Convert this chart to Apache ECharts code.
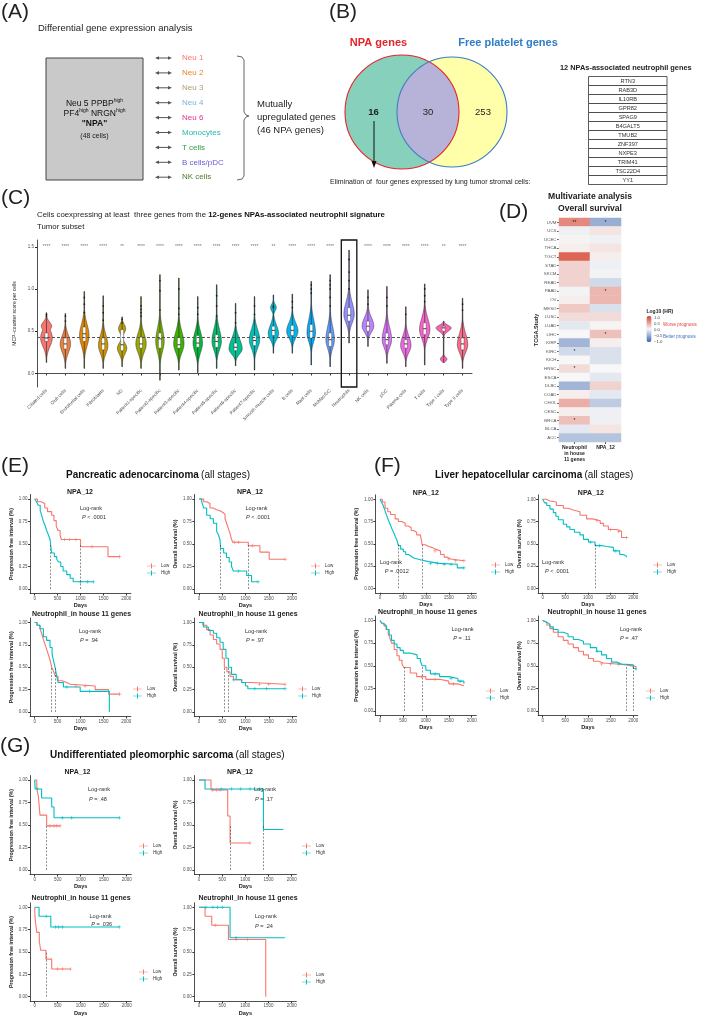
<!DOCTYPE html>
<html><head><meta charset="utf-8">
<script src="https://cdn.jsdelivr.net/npm/echarts@6/dist/echarts.min.js"></script>
<style>html,body{margin:0;padding:0;background:#fff}#c{width:709px;height:1019px}</style>
</head><body><div id="c"></div>
<script>
// ================= DATA =================
// Panel A
const compareGroups = ['Neu 1','Neu 2','Neu 3','Neu 4','Neu 6','Monocytes','T cells','B cells/pDC','NK cells'];
// Panel B
const vennSets = ['NPA genes','Free platelet genes'];
const vennCounts = [16, 30, 253];
const npaGenes = ['RTN3','RAB3D','IL10RB','GPR82','SPAG9','B4GALT5','TMUB2','ZNF397','NXPE3','TRIM41','TSC22D4','YY1'];
// Panel C (violins)
const cellTypes = ['Ciliated cells','Club cells','Endothelial cells','Fibroblasts','ND','Patient1-specific','Patient2-specific','Patient3-specific','Patient4-specific','Patient5-specific','Patient6-specific','Patient7-specific','Smooth muscle cells','B cells','Mast cells','MoMac/DC','Neutrophils','NK cells','pDC','Plasma cells','T cells','Type I cells','Type II cells'];
const vMin = [0.13,0.06,0.06,0.06,0.08,0.06,-0.08,0.04,0.01,0.06,0.09,0.04,0.24,0.24,0.10,0.08,0.36,0.32,0.12,0.08,0.10,0.13,0.06];
const vQ1  = [0.38,0.29,0.38,0.28,0.27,0.30,0.30,0.30,0.31,0.31,0.27,0.33,0.45,0.45,0.42,0.32,0.62,0.50,0.34,0.30,0.46,0.50,0.28];
const vMed = [0.42,0.35,0.47,0.35,0.34,0.35,0.41,0.34,0.36,0.38,0.31,0.39,0.51,0.51,0.50,0.40,0.69,0.56,0.40,0.35,0.53,0.54,0.35];
const vQ3  = [0.48,0.42,0.55,0.42,0.52,0.43,0.48,0.43,0.45,0.46,0.36,0.45,0.56,0.57,0.58,0.48,0.78,0.62,0.48,0.40,0.60,0.56,0.42];
const vMax = [0.72,0.71,0.97,0.92,0.67,0.91,1.17,1.13,0.91,1.05,0.83,0.91,0.93,0.94,1.09,1.17,1.46,0.99,1.03,0.79,1.06,0.62,0.89];
const vPeak  = [0.42,0.35,0.45,0.33,0.30,0.35,0.38,0.35,0.36,0.38,0.29,0.40,0.47,0.50,0.48,0.40,0.70,0.56,0.40,0.33,0.52,0.54,0.34];
const vWidth = [0.62,0.55,0.50,0.50,0.50,0.55,0.45,0.55,0.50,0.50,0.70,0.55,0.55,0.60,0.45,0.45,0.55,0.62,0.50,0.55,0.55,0.80,0.55];
const vSdLo  = [0.10,0.10,0.12,0.09,0.07,0.10,0.12,0.10,0.11,0.10,0.06,0.10,0.07,0.08,0.10,0.10,0.10,0.07,0.09,0.08,0.10,0.04,0.09];
const vSdHi  = [0.10,0.10,0.13,0.12,0.06,0.12,0.15,0.14,0.13,0.14,0.12,0.12,0.10,0.10,0.15,0.15,0.14,0.10,0.14,0.11,0.13,0.03,0.13];
const vPeak2  = [0.56,null,null,null,0.53,null,null,null,null,null,null,null,0.78,null,null,null,null,null,null,null,null,0.17,null];
const vWidth2 = [0.55,null,null,null,0.38,null,null,null,null,null,null,null,0.30,null,null,null,null,null,null,null,null,0.35,null];
const vSd2    = [0.05,null,null,null,0.05,null,null,null,null,null,null,null,0.04,null,null,null,null,null,null,null,null,0.025,null];
const vOutliers = [[0.68,0.70],[0.62,0.68],[0.72,0.82,0.90],[0.63,0.72,0.80],[0.60,0.64],[0.68,0.72,0.76,0.80],[0.75,0.98,1.10],[0.70,0.77,1.00],[0.70,0.78],[0.68,0.80,0.92],[0.60,0.72],[0.70,0.80],[0.78,0.80],[0.78,0.85],[0.95,1.00,1.05],[0.80,0.90,1.00,1.05,1.10],[1.00,1.10,1.20,1.35],[0.82,0.90],[0.80,0.90],[0.70],[0.85,0.92,1.00],[],[0.75,0.82]];
const vSignif = ['****','****','****','****','**','****','****','****','****','****','****','****','**','****','****','****','','****','****','****','****','**','****'];
const overallMedian = 0.43;
const violinTicks = [0, 0.5, 1.0, 1.5];
// Panel D (heatmap)
const tcgaStudies = ['UVM','UCS','UCEC','THCA','TGCT','STAD','SKCM','READ','PAAD','OV','MESO','LUSC','LUAD','LIHC','KIRP','KIRC','KICH','HNSC','ESCA','DLBC','COAD','CHOL','CESC','BRCA','BLCA','ACC'];
const hmColumns = ['Neutrophil\nin house\n11 genes','NPA_12'];
const hrNeutrophil = [0.60,-0.05,0.02,0.05,0.80,0.20,0.20,0.20,-0.03,0.05,0.25,0.15,-0.10,0.00,-0.45,-0.20,0.00,0.15,0.00,-0.45,0.05,0.40,0.05,0.30,-0.10,-0.35];
const hrNpa12      = [-0.50,0.10,-0.05,0.10,0.05,-0.05,-0.03,-0.20,0.35,0.35,-0.15,0.15,0.02,0.30,0.05,-0.15,-0.15,0.00,-0.10,0.20,-0.10,-0.30,-0.05,-0.05,0.10,-0.35];
const sigNeutrophil = ['**','','','','','','','','','','','','','','','*','','*','','','','','','*','',''];
const sigNpa12      = ['*','','','','','','','','*','','','','','*','','','','','','','','','','','',''];
const hmLegendTicks = ['1.0','0.5','0.0','\u22120.5','\u22121.0'];
// Panels E-G (Kaplan-Meier, [days, survival])
const kmXTicks = [0, 500, 1000, 1500, 2000];
const kmYTicks = [0, 0.25, 0.5, 0.75, 1];
// E: PAAD
const paadNpaPfiLow  = [[0,1],[60,0.97],[140,0.95],[220,0.9],[280,0.86],[370,0.82],[420,0.76],[470,0.7],[510,0.65],[555,0.6],[580,0.55],[1000,0.47],[1600,0.36],[1850,0.36]];
const paadNpaPfiHigh = [[0,1],[40,0.97],[75,0.93],[120,0.87],[150,0.82],[190,0.75],[230,0.7],[260,0.65],[300,0.6],[335,0.55],[350,0.48],[370,0.4],[430,0.36],[480,0.33],[520,0.3],[570,0.25],[620,0.2],[700,0.16],[775,0.12],[840,0.08],[1280,0.08]];
const paadNpaPfiLowCens  = [[650,0.55],[760,0.55],[900,0.55],[1250,0.47],[1850,0.36]];
const paadNpaPfiHighCens = [[1000,0.08],[1150,0.08],[1280,0.08]];
const paadNpaPfiMedian = [1000, 350];
const paadNpaOsLow  = [[0,1],[100,0.97],[165,0.95],[236,0.9],[300,0.88],[380,0.87],[450,0.85],[516,0.83],[560,0.78],[600,0.72],[640,0.66],[666,0.62],[690,0.57],[724,0.52],[1060,0.48],[1310,0.41],[1510,0.33],[1850,0.33]];
const paadNpaOsHigh = [[0,1],[58,0.97],[100,0.9],[165,0.82],[240,0.78],[310,0.73],[380,0.64],[420,0.6],[450,0.55],[467,0.45],[530,0.4],[590,0.35],[650,0.3],[700,0.25],[740,0.2],[1025,0.15],[1130,0.08],[1270,0.08]];
const paadNpaOsLowCens  = [[760,0.52],[850,0.52],[1150,0.48],[1850,0.33]];
const paadNpaOsHighCens = [[850,0.2],[1270,0.08]];
const paadNpaOsMedian = [1060, 467];
const paadNeuPfiLow  = [[0,1],[50,0.97],[115,0.93],[150,0.88],[190,0.81],[230,0.75],[260,0.7],[300,0.64],[335,0.58],[372,0.5],[408,0.46],[450,0.4],[510,0.35],[600,0.33],[700,0.31],[775,0.29],[1320,0.25],[1615,0.2],[1855,0.2]];
const paadNeuPfiHigh = [[0,1],[50,0.97],[115,0.93],[190,0.84],[260,0.8],[335,0.72],[380,0.65],[408,0.58],[445,0.5],[480,0.4],[510,0.33],[627,0.28],[993,0.23],[1630,0]];
const paadNeuPfiLowCens  = [[900,0.29],[1100,0.29],[1855,0.2]];
const paadNeuPfiHighCens = [[700,0.28],[1200,0.23]];
const paadNeuPfiMedian = [372, 445];
const paadNeuOsLow  = [[0,1],[80,0.97],[165,0.92],[240,0.86],[310,0.81],[380,0.76],[452,0.7],[500,0.6],[545,0.5],[600,0.45],[667,0.4],[740,0.36],[918,0.33],[1130,0.31],[1850,0.31]];
const paadNeuOsHigh = [[0,1],[100,0.95],[200,0.91],[310,0.88],[380,0.83],[452,0.78],[520,0.7],[580,0.6],[632,0.5],[700,0.42],[800,0.36],[918,0.33],[1000,0.29],[1050,0.26],[1850,0.26]];
const paadNeuOsLowCens  = [[1300,0.31],[1500,0.31],[1850,0.31]];
const paadNeuOsHighCens = [[750,0.36],[1200,0.26],[1450,0.26],[1850,0.26]];
const paadNeuOsMedian = [545, 632];
// F: LIHC
const lihcNpaPfiLow  = [[0,1],[50,0.97],[110,0.9],[170,0.86],[230,0.83],[330,0.78],[400,0.75],[475,0.73],[550,0.7],[620,0.68],[680,0.65],[730,0.63],[800,0.6],[880,0.58],[920,0.49],[990,0.47],[1060,0.46],[1130,0.44],[1210,0.42],[1320,0.38],[1400,0.35],[1470,0.33],[1540,0.31],[1830,0.31]];
const lihcNpaPfiHigh = [[0,1],[40,0.96],[70,0.93],[110,0.87],[145,0.82],[180,0.77],[220,0.72],[260,0.67],[295,0.63],[335,0.58],[370,0.54],[400,0.48],[450,0.44],[510,0.41],[560,0.38],[620,0.36],[680,0.34],[735,0.32],[880,0.3],[1060,0.28],[1300,0.27],[1685,0.23],[1830,0.23]];
const lihcNpaPfiLowCens  = [[1200,0.42],[1500,0.33],[1650,0.31],[1830,0.31]];
const lihcNpaPfiHighCens = [[1100,0.28],[1250,0.28],[1400,0.27],[1550,0.27],[1830,0.23]];
const lihcNpaPfiMedian = [920, 400];
const lihcNpaOsLow  = [[0,1],[80,0.98],[160,0.97],[300,0.93],[455,0.9],[560,0.88],[676,0.86],[823,0.82],[970,0.78],[1100,0.77],[1190,0.76],[1270,0.73],[1340,0.7],[1450,0.66],[1630,0.64],[1740,0.57],[1850,0.57]];
const lihcNpaOsHigh = [[0,1],[40,0.96],[90,0.93],[160,0.89],[235,0.85],[290,0.81],[345,0.77],[455,0.72],[530,0.69],[600,0.66],[700,0.63],[823,0.6],[900,0.55],[1010,0.52],[1155,0.48],[1300,0.47],[1410,0.46],[1560,0.42],[1700,0.38],[1780,0.36],[1850,0.35]];
const lihcNpaOsLowCens  = [[1200,0.76],[1500,0.66],[1680,0.64],[1850,0.57]];
const lihcNpaOsHighCens = [[1050,0.52],[1250,0.48],[1600,0.42]];
const lihcNpaOsMedian = [null, 1155];
const lihcNeuPfiLow  = [[0,1],[40,0.97],[70,0.95],[130,0.9],[180,0.85],[220,0.8],[250,0.75],[310,0.68],[370,0.61],[420,0.56],[480,0.52],[520,0.48],[660,0.42],[800,0.38],[1000,0.35],[1300,0.33],[1500,0.3],[1700,0.28],[1830,0.28]];
const lihcNeuPfiHigh = [[0,1],[40,0.97],[90,0.94],[145,0.9],[200,0.84],[250,0.78],[310,0.74],[370,0.7],[440,0.67],[510,0.64],[660,0.62],[810,0.58],[880,0.55],[920,0.5],[1000,0.45],[1100,0.41],[1300,0.38],[1500,0.36],[1700,0.33],[1830,0.3]];
const lihcNeuPfiLowCens  = [[900,0.38],[1200,0.35],[1600,0.3]];
const lihcNeuPfiHighCens = [[1200,0.41],[1550,0.36],[1750,0.33]];
const lihcNeuPfiMedian = [520, 920];
const lihcNeuOsLow  = [[0,1],[40,0.98],[90,0.95],[160,0.91],[235,0.87],[340,0.82],[455,0.78],[560,0.74],[676,0.7],[790,0.66],[900,0.62],[1010,0.58],[1120,0.55],[1230,0.53],[1340,0.52],[1630,0.51],[1850,0.49],[2060,0.47]];
const lihcNeuOsHigh = [[0,1],[40,0.98],[90,0.96],[160,0.93],[235,0.9],[340,0.87],[455,0.85],[560,0.82],[676,0.79],[790,0.77],[900,0.74],[1050,0.7],[1190,0.66],[1300,0.62],[1410,0.58],[1520,0.54],[1630,0.52],[1740,0.51],[2000,0.47],[2060,0.45]];
const lihcNeuOsLowCens  = [[1300,0.52],[1500,0.52]];
const lihcNeuOsHighCens = [[1200,0.66],[1680,0.52]];
const lihcNeuOsMedian = [1850, 2000];
// G: UPS
const upsNpaPfiLow  = [[0,1],[45,0.9],[80,0.82],[115,0.61],[260,0.49],[550,0.49]];
const upsNpaPfiHigh = [[0,1],[10,0.9],[150,0.8],[370,0.7],[420,0.58],[1840,0.58]];
const upsNpaPfiLowCens  = [[330,0.49],[420,0.49],[480,0.49],[550,0.49]];
const upsNpaPfiHighCens = [[60,0.9],[600,0.58],[800,0.58],[1840,0.58]];
const upsNpaPfiMedian = [260, null];
const upsNpaOsLow  = [[0,1],[260,0.89],[620,0.6],[670,0.3],[1100,0.3]];
const upsNpaOsHigh = [[0,1],[130,0.9],[1390,0.45],[1820,0.45]];
const upsNpaOsLowCens  = [[300,0.89],[380,0.89],[450,0.89],[1100,0.3]];
const upsNpaOsHighCens = [[480,0.9],[700,0.9],[900,0.9],[1100,0.9],[1300,0.9]];
const upsNpaOsMedian = [670, 1390];
const upsNeuPfiLow  = [[0,1],[5,0.91],[20,0.82],[45,0.72],[100,0.62],[130,0.52],[245,0.42],[370,0.31],[780,0.31]];
const upsNeuPfiHigh = [[0,1],[95,0.9],[350,0.78],[1840,0.78]];
const upsNeuPfiLowCens  = [[500,0.31],[600,0.31],[780,0.31]];
const upsNeuPfiHighCens = [[250,0.9],[450,0.78],[520,0.78],[600,0.78],[1840,0.78]];
const upsNeuPfiMedian = [245, null];
const upsNeuOsLow  = [[0,1],[130,0.9],[275,0.8],[635,0.64],[1440,0]];
const upsNeuOsHigh = [[0,1],[670,0.66],[1855,0.66]];
const upsNeuOsLowCens  = [[350,0.8],[800,0.64],[1050,0.64]];
const upsNeuOsHighCens = [[150,1],[300,1],[400,1],[500,1],[800,0.66]];
const upsNeuOsMedian = [null, null];
const kmPValues = ['< .0001','< .0001','= .94','= .97','= .0012','< .0001','= .11','= .47','= .48','= .17','= .036','= .24'];

// ================= STYLE / LAYOUT =================
const FF = '"Liberation Sans", Arial, Helvetica, sans-serif';
const groupColors = ['#F8766D','#E8862A','#A89F70','#7DB2DC','#E0348E','#2AB9B0','#2EA043','#6A5BD6','#4E7A2B'];
const violinColors = ['#F8766D','#EF7F3F','#E38900','#D09400','#B79F00','#9AA800','#75AF00','#3CB500','#00BA38','#00BE6C','#00C094','#00C0B8','#00BDD8','#00B6EB','#00ABFD','#619CFF','#9590FF','#BC81FF','#DB72FB','#EE67E4','#FA62CA','#FF62AC','#FF6B8A'];
const LOW = '#F8766D', HIGH = '#00BFC4';
const G = [];
function T(x, y, text, o) {
  const st = Object.assign({text: text, x: 0, y: 0, fontSize: 8, fill: '#222', fontFamily: FF, textAlign: 'left', align: 'left', textVerticalAlign: 'middle', verticalAlign: 'middle'}, o || {});
  if (o && o.textAlign) st.align = o.textAlign;
  if (o && o.textVerticalAlign) st.verticalAlign = o.textVerticalAlign;
  G.push({type: 'text', x: x, y: y, z: 100, style: st, silent: true});
}
function richT(x, y, text, rich, o) {
  const r = {};
  Object.keys(rich).forEach(k => r[k] = Object.assign({fontFamily: FF}, rich[k]));
  T(x, y, text, Object.assign({rich: r}, o || {}));
}

// ---------- Panel A ----------
T(1, 12, '(A)', {fontSize: 21});
T(38, 28, 'Differential gene expression analysis', {fontSize: 9.5});
G.push({type: 'rect', shape: {x: 46, y: 58, width: 97, height: 122}, style: {fill: '#C9C9C9', stroke: '#444', lineWidth: 1}});
const supRich = {n: {fontSize: 8.5, fill: '#111'}, s: {fontSize: 5, fill: '#111', verticalAlign: 'top', padding: [0, 0, 6, 0]}};
richT(94.5, 104, '{n|Neu 5 PPBP}{s|high}', supRich, {textAlign: 'center'});
richT(94.5, 114, '{n|PF4}{s|high}{n| NRGN}{s|high}', supRich, {textAlign: 'center'});
T(94.5, 124, '"NPA"', {fontSize: 8.5, fontWeight: 'bold', textAlign: 'center', fill: '#111'});
T(94.5, 136, '(48 cells)', {fontSize: 7, textAlign: 'center', fill: '#222'});
compareGroups.forEach((g, i) => {
  const y = 58 + i * 14.9;
  G.push({type: 'line', shape: {x1: 157, y1: y, x2: 170, y2: y}, style: {stroke: '#555', lineWidth: 1}});
  G.push({type: 'polygon', shape: {points: [[155, y], [159, y - 1.8], [159, y + 1.8]]}, style: {fill: '#555'}});
  G.push({type: 'polygon', shape: {points: [[172, y], [168, y - 1.8], [168, y + 1.8]]}, style: {fill: '#555'}});
  T(182, y, g, {fontSize: 8, fill: groupColors[i]});
});
G.push({type: 'polyline', shape: {points: [[237, 56], [242, 57], [244, 60], [244, 112], [246, 115], [249, 116], [246, 117], [244, 120], [244, 176], [242, 179], [237, 180]]}, style: {stroke: '#666', lineWidth: 1, fill: null}});
T(257, 104, 'Mutually', {fontSize: 9.5});
T(257, 117, 'upregulated genes', {fontSize: 9.5});
T(257, 130, '(' + 46 + ' NPA genes)', {fontSize: 9.5});

// ---------- Panel B ----------
T(329, 12, '(B)', {fontSize: 21});
T(378.5, 43, vennSets[0], {fontSize: 11, fontWeight: 'bold', fill: '#E4232A', textAlign: 'center'});
T(508, 43, vennSets[1], {fontSize: 11, fontWeight: 'bold', fill: '#2F7CC6', textAlign: 'center'});
(function venn() {
  const c1 = {x: 402, y: 112, r: 57}, c2 = {x: 452, y: 112, r: 55};
  G.push({type: 'circle', shape: {cx: c1.x, cy: c1.y, r: c1.r}, style: {fill: '#86D0BC'}});
  G.push({type: 'circle', shape: {cx: c2.x, cy: c2.y, r: c2.r}, style: {fill: '#FFFFAA'}});
  const d = c2.x - c1.x;
  const a = (d * d + c1.r * c1.r - c2.r * c2.r) / (2 * d);
  const h = Math.sqrt(c1.r * c1.r - a * a);
  const t1 = Math.atan2(h, a), t2 = Math.atan2(h, a - d);
  const pts = [];
  for (let k = 0; k <= 40; k++) { const t = -t1 + 2 * t1 * k / 40; pts.push([c1.x + c1.r * Math.cos(t), c1.y + c1.r * Math.sin(t)]); }
  for (let k = 0; k <= 40; k++) { const t = t2 + (2 * Math.PI - 2 * t2) * k / 40; pts.push([c2.x + c2.r * Math.cos(t), c2.y + c2.r * Math.sin(t)]); }
  G.push({type: 'polygon', shape: {points: pts}, style: {fill: '#B6B2D8'}});
  G.push({type: 'circle', shape: {cx: c1.x, cy: c1.y, r: c1.r}, style: {fill: null, stroke: '#E4232A', lineWidth: 1.1}});
  G.push({type: 'circle', shape: {cx: c2.x, cy: c2.y, r: c2.r}, style: {fill: null, stroke: '#3B7DC4', lineWidth: 1.1}});
})();
T(373.5, 112, String(vennCounts[0]), {fontSize: 9.5, fontWeight: 'bold', textAlign: 'center'});
T(428, 112, String(vennCounts[1]), {fontSize: 9.5, textAlign: 'center'});
T(483, 112, String(vennCounts[2]), {fontSize: 9.5, textAlign: 'center'});
G.push({type: 'line', shape: {x1: 374, y1: 121, x2: 374, y2: 162}, style: {stroke: '#111', lineWidth: 1}});
G.push({type: 'polygon', shape: {points: [[371.5, 161], [376.5, 161], [374, 168]]}, style: {fill: '#111'}});
T(330, 182, 'Elimination of  four genes expressed by lung tumor stromal cells:', {fontSize: 7});
T(560, 68, npaGenes.length + ' NPAs-associated neutrophil genes', {fontSize: 7.4, fontWeight: 'bold'});
npaGenes.forEach((g, i) => {
  const y = 76.5 + i * 9;
  G.push({type: 'rect', shape: {x: 588.5, y: y, width: 78.5, height: 9}, style: {fill: '#fff', stroke: '#333', lineWidth: 0.8}});
  T(627.75, y + 4.7, g, {fontSize: 5.6, textAlign: 'center', fill: '#333'});
});

// ---------- Panel C ----------
T(1, 198, '(C)', {fontSize: 21});
richT(37, 215, '{n|Cells coexpressing at least  three genes from the }{b|12-genes NPAs-associated neutrophil signature}', {n: {fontSize: 7.8, fill: '#222'}, b: {fontSize: 7.8, fontWeight: 'bold', fill: '#111'}});
T(37, 226.5, 'Tumor subset', {fontSize: 7.8});

// ---------- Panel D texts ----------
T(499, 212, '(D)', {fontSize: 21});
T(590, 197, 'Multivariate analysis', {fontSize: 8.6, fontWeight: 'bold', textAlign: 'center'});
T(590, 209, 'Overall survival', {fontSize: 8.6, fontWeight: 'bold', textAlign: 'center'});
T(646.5, 312, 'Log10 (HR)', {fontSize: 5, fontWeight: 'bold'});
hmLegendTicks.forEach((t, i) => T(654, 317.5 + i * 6, t, {fontSize: 4.3, fill: '#444'}));
T(663, 325, 'Worse prognosis', {fontSize: 4.5, fill: '#E0403A'});
T(663, 337, 'Better prognosis', {fontSize: 4.5, fill: '#3E6FC0'});

// ================= CHART STRUCTURE =================
const grids = [], xAxes = [], yAxes = [], series = [], legends = [];

// Violin grid (index 0)
grids.push({left: 37, top: 240, width: 435, height: 147});
xAxes.push({gridIndex: 0, type: 'category', data: cellTypes,
  axisLine: {lineStyle: {color: '#222', width: 0.8}}, axisTick: {show: true, alignWithLabel: true, length: 2, lineStyle: {color: '#333'}},
  axisLabel: {rotate: 45, interval: 0, fontSize: 4.6, color: '#4d4d4d', margin: 3}});
yAxes.push({gridIndex: 0, type: 'value', min: -0.16, max: 1.58,
  name: 'MCP\u2212counter score per cells', nameLocation: 'middle', nameGap: 14, nameTextStyle: {fontSize: 5, color: '#222'},
  axisLine: {show: true, lineStyle: {color: '#222', width: 0.8}}, splitLine: {show: false},
  axisTick: {show: true, length: 2, customValues: violinTicks},
  axisLabel: {customValues: violinTicks, formatter: v => Number(v).toFixed(1), fontSize: 4.5, color: '#4d4d4d', margin: 3}});
series.push({type: 'custom', name: 'violins', xAxisIndex: 0, yAxisIndex: 0, z: 3,
  data: cellTypes.map((c, i) => [i, vMin[i], vQ1[i], vMed[i], vQ3[i], vMax[i]]),
  encode: {x: 0, y: [1, 2, 3, 4, 5]},
  renderItem: function (params, api) {
    const i = params.dataIndex;
    const band = api.size([1, 0])[0];
    const cx = api.coord([i, 0])[0];
    const half = band / 2;
    const lo = api.value(1), hi = api.value(5);
    const N = 60, L = [], R = [];
    for (let k = 0; k <= N; k++) {
      const y = lo + (hi - lo) * k / N;
      const sd = y < vPeak[i] ? vSdLo[i] : vSdHi[i];
      let w = vWidth[i] * Math.exp(-0.5 * Math.pow((y - vPeak[i]) / sd, 2));
      if (vPeak2[i] != null) w = Math.max(w, vWidth2[i] * Math.exp(-0.5 * Math.pow((y - vPeak2[i]) / vSd2[i], 2)));
      w = Math.max(w, 0.03);
      const py = api.coord([i, y])[1];
      R.push([cx + w * half, py]);
      L.unshift([cx - w * half, py]);
    }
    const yq1 = api.coord([i, api.value(2)])[1], ymed = api.coord([i, api.value(3)])[1], yq3 = api.coord([i, api.value(4)])[1];
    const ylo = api.coord([i, lo])[1], yhi = api.coord([i, hi])[1];
    const bw = band * 0.16;
    const children = [
      {type: 'polygon', shape: {points: R.concat(L)}, style: {fill: violinColors[i], stroke: '#333', lineWidth: 0.5}},
      {type: 'line', shape: {x1: cx, y1: ylo, x2: cx, y2: yhi}, style: {stroke: '#222', lineWidth: 0.6}},
      {type: 'rect', shape: {x: cx - bw / 2, y: yq3, width: bw, height: yq1 - yq3}, style: {fill: '#fff', stroke: '#333', lineWidth: 0.4}},
      {type: 'line', shape: {x1: cx - bw / 2, y1: ymed, x2: cx + bw / 2, y2: ymed}, style: {stroke: '#111', lineWidth: 0.8}}
    ];
    if (cellTypes[i] === 'Neutrophils') {
      const cs = params.coordSys;
      children.push({type: 'rect', shape: {x: cx - band * 0.41, y: cs.y, width: band * 0.82, height: cs.height}, style: {fill: null, stroke: '#111', lineWidth: 1.3}});
    }
    return {type: 'group', children: children};
  }
});
const outlierPts = [];
vOutliers.forEach((arr, i) => arr.forEach(v => outlierPts.push([i, v])));
series.push({type: 'scatter', name: 'outliers', xAxisIndex: 0, yAxisIndex: 0, z: 4, data: outlierPts, symbolSize: 1.8, itemStyle: {color: '#111'}, silent: true,
  markLine: {silent: true, symbol: ['none', 'none'], label: {show: false}, lineStyle: {color: '#555', type: [3, 2], width: 1.1}, data: [{yAxis: overallMedian}]}});
series.push({type: 'scatter', name: 'signif', xAxisIndex: 0, yAxisIndex: 0, symbolSize: 0, silent: true,
  data: vSignif.map((s, i) => [i, 1.5, s]),
  label: {show: true, position: 'inside', formatter: p => p.value[2], fontSize: 5, color: '#555', fontFamily: FF}});

// Heatmap grid (index 1)
grids.push({left: 559, top: 218, width: 62, height: 224});
xAxes.push({gridIndex: 1, type: 'category', data: hmColumns, position: 'bottom',
  axisLine: {show: false}, axisTick: {show: true, length: 2, alignWithLabel: true, lineStyle: {color: '#555'}},
  axisLabel: {fontSize: 5, fontWeight: 'bold', color: '#222', lineHeight: 6, margin: 3, interval: 0}});
yAxes.push({gridIndex: 1, type: 'category', data: tcgaStudies, inverse: true,
  name: 'TCGA.Study', nameLocation: 'middle', nameGap: 19, nameTextStyle: {fontSize: 5.5, fontWeight: 'bold', color: '#222'},
  axisLine: {show: false}, axisTick: {show: true, length: 2, alignWithLabel: true, lineStyle: {color: '#666'}},
  axisLabel: {fontSize: 4.4, color: '#555', margin: 2.5, interval: 0}});
const hmData = [];
tcgaStudies.forEach((s, j) => { hmData.push([0, j, hrNeutrophil[j]]); hmData.push([1, j, hrNpa12[j]]); });
const hmSeriesIndex = series.length;
series.push({type: 'heatmap', name: 'log10HR', xAxisIndex: 1, yAxisIndex: 1, data: hmData,
  label: {show: true, fontSize: 5, color: '#222', formatter: p => (p.value[0] === 0 ? sigNeutrophil : sigNpa12)[p.value[1]]}});

// KM plots
const kmPlots = [
  {low: paadNpaPfiLow, high: paadNpaPfiHigh, lowC: paadNpaPfiLowCens, highC: paadNpaPfiHighCens, med: paadNpaPfiMedian, title: 'NPA_12', yName: 'Progression free interval (%)', X0: 34.7, X2: 126.3, Y1: 499, Y0: 589, tx: 80, ty: 492.5, lr: [91, 508.3, 94, 517], lg: [147, 567]},
  {low: paadNpaOsLow, high: paadNpaOsHigh, lowC: paadNpaOsLowCens, highC: paadNpaOsHighCens, med: paadNpaOsMedian, title: 'NPA_12', yName: 'Overall survival (%)', X0: 199, X2: 292, Y1: 499, Y0: 589, tx: 250, ty: 492.5, lr: [256.5, 508.3, 258, 517], lg: [311, 567]},
  {low: paadNeuPfiLow, high: paadNeuPfiHigh, lowC: paadNeuPfiLowCens, highC: paadNeuPfiHighCens, med: paadNeuPfiMedian, title: 'Neutrophil_in house 11 genes', yName: 'Progression free interval (%)', X0: 34.7, X2: 126.3, Y1: 622.5, Y0: 712, tx: 81.5, ty: 614, lr: [90, 631.7, 89, 640], lg: [133, 690]},
  {low: paadNeuOsLow, high: paadNeuOsHigh, lowC: paadNeuOsLowCens, highC: paadNeuOsHighCens, med: paadNeuOsMedian, title: 'Neutrophil_in house 11 genes', yName: 'Overall survival (%)', X0: 199, X2: 292, Y1: 622.5, Y0: 712, tx: 248, ty: 614, lr: [256, 631.7, 255, 640], lg: [298, 690]},
  {low: lihcNpaPfiLow, high: lihcNpaPfiHigh, lowC: lihcNpaPfiLowCens, highC: lihcNpaPfiHighCens, med: lihcNpaPfiMedian, title: 'NPA_12', yName: 'Progression free interval (%)', X0: 380, X2: 471.7, Y1: 499.3, Y0: 588.3, tx: 425.8, ty: 493, lr: [391, 562.7, 396.7, 571.3], lg: [491, 566]},
  {low: lihcNpaOsLow, high: lihcNpaOsHigh, lowC: lihcNpaOsLowCens, highC: lihcNpaOsHighCens, med: lihcNpaOsMedian, title: 'NPA_12', yName: 'Overall survival (%)', X0: 542.7, X2: 633.3, Y1: 499.3, Y0: 588.3, tx: 590.8, ty: 493, lr: [553, 562.7, 557, 571.3], lg: [653, 566]},
  {low: lihcNeuPfiLow, high: lihcNeuPfiHigh, lowC: lihcNeuPfiLowCens, highC: lihcNeuPfiHighCens, med: lihcNeuPfiMedian, title: 'Neutrophil_in house 11 genes', yName: 'Progression free interval (%)', X0: 380, X2: 471.7, Y1: 620.5, Y0: 711, tx: 427.5, ty: 612.3, lr: [462.5, 629.3, 462, 638.7], lg: [486, 692]},
  {low: lihcNeuOsLow, high: lihcNeuOsHigh, lowC: lihcNeuOsLowCens, highC: lihcNeuOsHighCens, med: lihcNeuOsMedian, title: 'Neutrophil_in house 11 genes', yName: 'Overall survival (%)', X0: 542.7, X2: 633.3, Y1: 620.5, Y0: 711, tx: 597, ty: 612.3, lr: [631, 629.3, 629, 638.7], lg: [646, 692]},
  {low: upsNpaPfiLow, high: upsNpaPfiHigh, lowC: upsNpaPfiLowCens, highC: upsNpaPfiHighCens, med: upsNpaPfiMedian, title: 'NPA_12', yName: 'Progression free interval (%)', X0: 34.7, X2: 126.7, Y1: 780, Y0: 870, tx: 77.5, ty: 772, lr: [99, 789.3, 98, 799], lg: [139, 847]},
  {low: upsNpaOsLow, high: upsNpaOsHigh, lowC: upsNpaOsLowCens, highC: upsNpaOsHighCens, med: upsNpaOsMedian, title: 'NPA_12', yName: 'Overall survival (%)', X0: 199, X2: 291.7, Y1: 780, Y0: 870, tx: 240, ty: 772, lr: [265, 789.3, 264, 799], lg: [302, 847]},
  {low: upsNeuPfiLow, high: upsNeuPfiHigh, lowC: upsNeuPfiLowCens, highC: upsNeuPfiHighCens, med: upsNeuPfiMedian, title: 'Neutrophil_in house 11 genes', yName: 'Progression free interval (%)', X0: 34.7, X2: 126.7, Y1: 907.3, Y0: 996.7, tx: 81, ty: 898, lr: [100.5, 916.7, 101.7, 924.5], lg: [139, 973]},
  {low: upsNeuOsLow, high: upsNeuOsHigh, lowC: upsNeuOsLowCens, highC: upsNeuOsHighCens, med: upsNeuOsMedian, title: 'Neutrophil_in house 11 genes', yName: 'Overall survival (%)', X0: 199, X2: 291.7, Y1: 907.3, Y0: 996.7, tx: 248, ty: 898, lr: [265.8, 916.7, 264, 926], lg: [302, 976]}
];
const plusSym = 'path://M4,0H6V4H10V6H6V10H4V6H0V4H4Z';
const legendIcon = 'path://M0,4.3H8V0H10V4.3H18V5.7H10V10H8V5.7H0Z';
kmPlots.forEach((k, n) => {
  const gi = grids.length;
  const pw = k.X2 - k.X0, ph = k.Y0 - k.Y1;
  grids.push({left: k.X0 - 0.05 * pw, top: k.Y1 - 0.05 * ph, width: 1.1 * pw, height: 1.1 * ph});
  xAxes.push({gridIndex: gi, type: 'value', min: -100, max: 2100,
    name: 'Days', nameLocation: 'middle', nameGap: 9, nameTextStyle: {fontSize: 5.6, fontWeight: 'bold', color: '#222'},
    axisLine: {show: true, onZero: false, lineStyle: {color: '#222', width: 0.8}}, splitLine: {show: false},
    axisTick: {show: true, length: 2, customValues: kmXTicks, lineStyle: {color: '#333'}},
    axisLabel: {customValues: kmXTicks, formatter: v => String(Math.round(v)), fontSize: 4.5, color: '#4d4d4d', margin: 2.5}});
  yAxes.push({gridIndex: gi, type: 'value', min: -0.05, max: 1.05,
    name: k.yName, nameLocation: 'middle', nameGap: 16, nameTextStyle: {fontSize: 5.3, fontWeight: 'bold', color: '#222'},
    axisLine: {show: true, onZero: false, lineStyle: {color: '#222', width: 0.8}}, splitLine: {show: false},
    axisTick: {show: true, length: 2, customValues: kmYTicks, lineStyle: {color: '#333'}},
    axisLabel: {customValues: kmYTicks, formatter: v => Number(v).toFixed(2), fontSize: 4.5, color: '#4d4d4d', margin: 2.5}});
  [['Low', k.low, k.lowC, LOW], ['High', k.high, k.highC, HIGH]].forEach((g, j) => {
    const med = k.med[j];
    const s = {type: 'line', name: g[0], xAxisIndex: gi, yAxisIndex: gi, data: g[1], step: 'end', showSymbol: false, symbol: 'none',
      lineStyle: {color: g[3], width: 1.1}, itemStyle: {color: g[3]}, silent: true, z: 3};
    if (med != null) s.markLine = {silent: true, symbol: ['none', 'none'], label: {show: false}, lineStyle: {color: '#444', type: [2, 1.5], width: 0.6},
      data: [[{coord: [med, 0]}, {coord: [med, 0.5]}]]};
    series.push(s);
    series.push({type: 'scatter', name: g[0] + ' censored', xAxisIndex: gi, yAxisIndex: gi, data: g[2], symbol: plusSym, symbolSize: 3.6, itemStyle: {color: g[3]}, silent: true, z: 4});
  });
  legends.push({left: k.lg[0], top: k.lg[1] - 3.5, orient: 'vertical', data: ['Low', 'High'], icon: legendIcon, itemWidth: 9, itemHeight: 5, itemGap: 2, padding: 0,
    selectedMode: false, textStyle: {fontSize: 4.5, color: '#333', fontFamily: FF}});
  T(k.tx, k.ty, k.title, {fontSize: 7, fontWeight: 'bold', textAlign: 'center'});
  T(k.lr[0], k.lr[1], 'Log-rank', {fontSize: 5.6, textAlign: 'center', fill: '#333'});
  richT(k.lr[2], k.lr[3], '{i|P} ' + kmPValues[n], {i: {fontSize: 5.6, fontStyle: 'italic', fill: '#333'}}, {fontSize: 5.6, textAlign: 'center', fill: '#333'});
});

// Panel E/F/G headers
T(1, 466, '(E)', {fontSize: 21});
richT(66, 475, '{b|Pancreatic adenocarcinoma} {n|(all stages)}', {b: {fontSize: 10, fontWeight: 'bold', fill: '#111'}, n: {fontSize: 10, fill: '#111'}});
T(374, 466, '(F)', {fontSize: 21});
richT(435, 475, '{b|Liver hepatocellular carcinoma} {n|(all stages)}', {b: {fontSize: 10, fontWeight: 'bold', fill: '#111'}, n: {fontSize: 10, fill: '#111'}});
T(0, 746, '(G)', {fontSize: 21});
richT(50, 755, '{b|Undifferentiated pleomorphic sarcoma} {n|(all stages)}', {b: {fontSize: 10, fontWeight: 'bold', fill: '#111'}, n: {fontSize: 10, fill: '#111'}});

const chart = echarts.init(document.getElementById('c'), null, {renderer: 'canvas'});
chart.setOption({
  animation: false,
  backgroundColor: '#fff',
  textStyle: {fontFamily: FF},
  grid: grids, xAxis: xAxes, yAxis: yAxes, series: series, legend: legends,
  visualMap: [{type: 'continuous', min: -1, max: 1, seriesIndex: hmSeriesIndex, orient: 'vertical', left: 646.5, top: 316, itemWidth: 5, itemHeight: 26,
    calculable: false, padding: 0, text: null, textStyle: {fontSize: 0}, inRange: {color: ['#3B65AE', '#F7F7F7', '#D6402C']}}],
  graphic: G
});
</script></body></html>
